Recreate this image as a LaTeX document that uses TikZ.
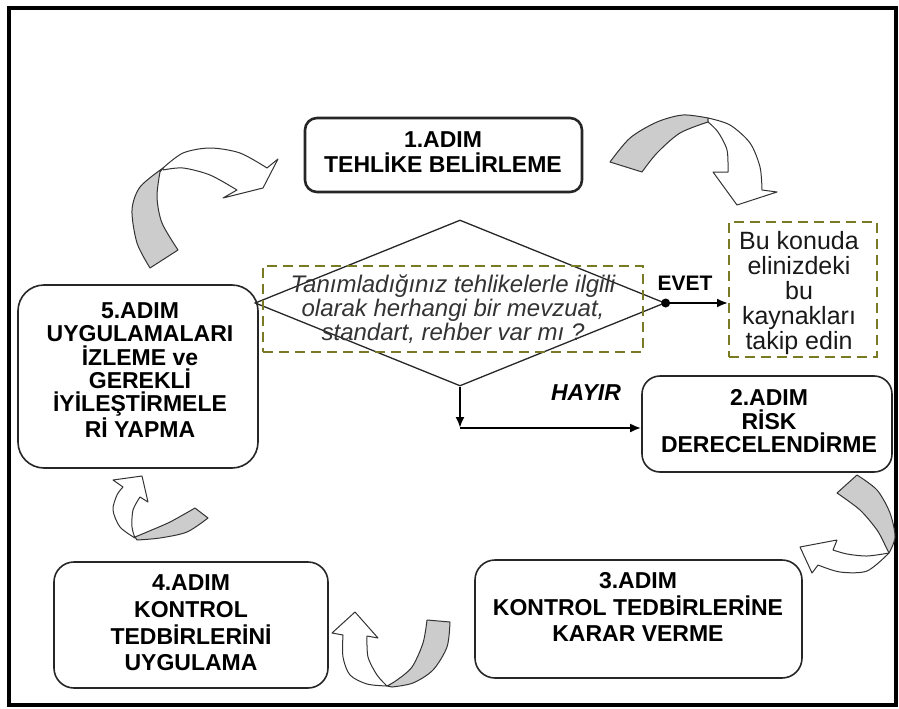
\documentclass[tikz,border=0pt]{standalone}
\usepackage{fontspec}
\setmainfont{Liberation Sans}
\usetikzlibrary{shapes.geometric,arrows.meta}
\definecolor{olv}{RGB}{122,122,36}
\definecolor{bandgray}{RGB}{204,204,204}
\begin{document}
\begin{tikzpicture}[x=1pt,y=-1pt,
  stepbox/.style={draw=black!85, line width=1.6pt, rounded corners=18pt, inner sep=0pt},
  steptext/.style={font=\bfseries\fontsize{23}{23.5}\selectfont, align=center, inner sep=0pt},
  dashbox/.style={draw=olv, line width=1.8pt, dash pattern=on 10pt off 6pt, inner sep=0pt, align=center},
  conn/.style={line width=2.2pt, -{Latex[length=11pt,width=9pt]}},
  band/.style={draw=black!80, line width=1pt, fill=bandgray, line join=round},
  body/.style={draw=black!80, line width=1pt, fill=white, line join=round},
]
\useasboundingbox (0,0) rectangle (899,709);
\draw[line width=3.5pt] (9,8) rectangle (896,705);

% step boxes
\node[stepbox, line width=2.6pt, rounded corners=12pt, minimum width=277pt, minimum height=74pt] (s1) at (443.5,155) {};
\node[stepbox, minimum width=250pt, minimum height=96pt] (s2) at (767,424) {};
\node[stepbox, rounded corners=20pt, minimum width=327pt, minimum height=118pt] (s3) at (638.5,619) {};
\node[stepbox, rounded corners=20pt, minimum width=274pt, minimum height=126pt] (s4) at (191,625) {};
\node[stepbox, rounded corners=26pt, minimum width=240pt, minimum height=183pt] (s5) at (138,376.5) {};

\node[steptext, text depth=0pt] (t1) at (443,152.5) {1.ADIM\\[1.5pt]TEHLİKE BELİRLEME};
\node[steptext] (t2) at (769,421.5) {2.ADIM\\RİSK\\DERECELENDİRME};
\node[steptext, font=\bfseries\fontsize{23}{26.5}\selectfont] (t3) at (638,607) {3.ADIM\\KONTROL TEDBİRLERİNE\\KARAR VERME};
\node[steptext, font=\bfseries\fontsize{23}{26.7}\selectfont] (t4) at (191,623) {4.ADIM\\KONTROL\\TEDBİRLERİNİ\\UYGULAMA};
\node[steptext, font=\bfseries\fontsize{23}{23.2}\selectfont] (t5) at (140,370) {5.ADIM\\UYGULAMALARI\\İZLEME ve\\GEREKLİ\\İYİLEŞTİRMELE\\Rİ YAPMA};

% decision
\node[diamond, draw=black!85, line width=1.3pt, minimum width=410pt, minimum height=166pt, inner sep=0pt] (dia) at (460,303) {};
\node[dashbox, minimum width=380pt, minimum height=86pt, text=black!80,
      font=\itshape\fontsize{24}{24}\selectfont] (q) at (453,309)
      {Tanımladığınız tehlikelerle ilgili\\olarak herhangi bir mevzuat,\\standart, rehber var mı ?};
\node[dashbox, minimum width=148pt, minimum height=135pt] (bu) at (803,289.5) {};
\node[text=black!90, align=center, inner sep=0pt, font=\fontsize{25}{25}\selectfont] (butext) at (799,293)
      {Bu konuda\\elinizdeki\\bu\\kaynakları\\takip edin};

\node[font=\bfseries\fontsize{21}{21}\selectfont, inner sep=0pt] (evet) at (685,283) {EVET};
\node[font=\bfseries\itshape\fontsize{23}{23}\selectfont, inner sep=0pt] (hayir) at (586,393) {HAYIR};

\node[circle, fill=black, inner sep=0pt, minimum size=9pt] (dot) at (dia.east) {};
\draw[conn] (dot) -- (dot -| bu.west);
\coordinate (corner) at (460,428);
\draw[conn] (dia.south) -- (corner);
\draw[conn] (corner) -- (corner -| s2.west);

% curved arrow A (5 -> 1)
\filldraw[band] plot[smooth] coordinates {(163,168) (140,187) (132,210) (137,243) (150,268)} -- (178,250)
  -- plot[smooth] coordinates {(178,250) (162,223) (157,197) (160,172)} -- cycle;
\filldraw[body] plot[smooth] coordinates {(163,168) (183,153) (210,148) (240,153) (267,168)} -- (278,159) -- (263,188) -- (223,198)
  -- plot[smooth] coordinates {(237,190) (210,175) (183,168) (163,170)} -- cycle;

% curved arrow B (1 -> Bu konuda)
\filldraw[band] plot[smooth] coordinates {(610,162) (630,138) (657,122) (683,115) (708,118)}
  -- plot[smooth] coordinates {(708,122) (680,133) (657,153) (642,172)} -- cycle;
\filldraw[body] plot[smooth] coordinates {(708,118) (730,125) (750,143) (760,167) (762,190)} -- (777,192) -- (737,205) -- (713,172)
  -- plot[smooth] coordinates {(728,172) (727,150) (718,132) (708,122)} -- cycle;

% curved arrow C (2 -> 3)
\filldraw[band] plot[smooth] coordinates {(857,475) (877,490) (890,513) (895,537) (889,553)}
  -- plot[smooth] coordinates {(885,545) (877,530) (860,510) (837,493)} -- cycle;
\filldraw[body] plot[smooth] coordinates {(889,553) (867,556) (847,554) (833,550)} -- (837,540) -- (800,547) -- (812,573)
  -- plot[smooth] coordinates {(818,565) (840,572) (867,571) (889,553)} -- cycle;

% curved arrow D (3 -> 4)
\filldraw[band] plot[smooth] coordinates {(427,620) (423,643) (412,667) (397,680) (387,686)}
  -- plot[smooth] coordinates {(392,687) (413,683) (433,670) (447,647) (450,622)} -- cycle;
\filldraw[body] plot[smooth] coordinates {(387,686) (367,684) (350,675) (343,657) (343,635)} -- (332,633) -- (355,612) -- (378,638)
  -- plot[smooth] coordinates {(367,636) (368,657) (377,675) (387,686)} -- cycle;

% curved arrow E (4 -> 5)
\filldraw[band] plot[smooth] coordinates {(195,508) (170,522) (147,532) (135,537)}
  -- plot[smooth] coordinates {(137,540) (160,538) (187,532) (208,518)} -- cycle;
\filldraw[body] plot[smooth] coordinates {(135,538) (120,527) (113,510) (117,495) (123,487)} -- (113,480) -- (142,476) -- (148,502)
  -- plot[smooth] coordinates {(140,497) (133,510) (132,527) (135,538)} -- cycle;
\end{tikzpicture}
\end{document}
